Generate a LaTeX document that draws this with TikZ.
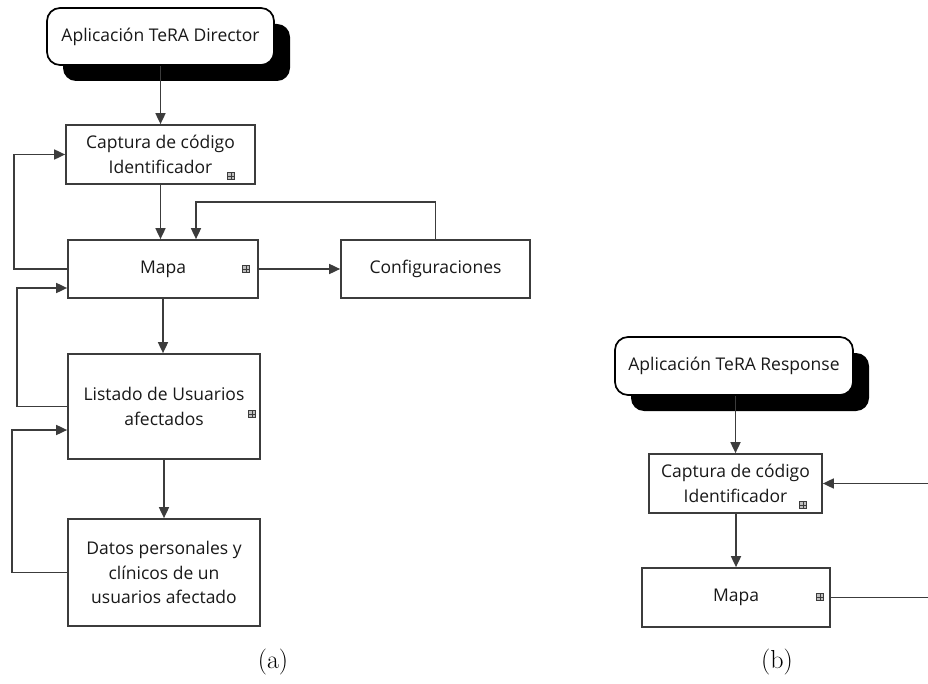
\documentclass[tikz,border=0pt]{standalone}
\usepackage{fontspec}
\newfontfamily\diagfont{Open Sans}
\usetikzlibrary{arrows.meta,shadows,calc}
\definecolor{dark_gray}{RGB}{60, 60, 60}

\tikzset{
  caja/.style={draw=dark_gray, line width=1.7pt, fill=white, align=center,
    inner sep=0pt, text=black!90, font=\diagfont\fontsize{17.5}{25.5}\selectfont},
  app/.style={caja, draw=black, rounded corners=13pt,
    drop shadow={shadow xshift=16pt, shadow yshift=-16pt, fill=black, opacity=1}},
  flecha/.style={draw=dark_gray, line width=1.7pt, ->},
  icono/.style={draw=dark_gray, line width=0.9pt, fill=gray!50}
}

\begin{document}
\begin{tikzpicture}[x=1pt, y=-1pt, >={Triangle[length=11pt,width=10pt]}]
\useasboundingbox (0,0) rectangle (928,684);

\node[app, minimum width=227, minimum height=57] (dir) at (160.5,36.5) {Aplicación TeRA Director};
\node[caja, minimum width=189, minimum height=59] (cap) at (160.5,154.5) {Captura de código\\Identificador};
\node[caja, minimum width=190, minimum height=58] (mapa) at (163,269) {Mapa};
\node[caja, minimum width=189, minimum height=58] (conf) at (435.5,269) {Configuraciones};
\node[caja, minimum width=192, minimum height=105] (list) at (164,406.5) {Listado de Usuarios\\afectados};
\node[caja, minimum width=192, minimum height=107, font=\diagfont\fontsize{17.5}{24.5}\selectfont] (datos) at (164,572.5) {Datos personales y\\clínicos de un\\usuarios afectado};

\node[app, minimum width=238, minimum height=58] (resp) at (734,366) {Aplicación TeRA Response};
\node[caja, minimum width=173, minimum height=59] (cap2) at (735.5,483.5) {Captura de código\\Identificador};
\node[caja, minimum width=188, minimum height=59] (mapa2) at (736,597.5) {Mapa};

\draw[flecha] (dir) -- (cap);
\draw[flecha] (cap.south) -- (cap.south |- mapa.north);
\draw[flecha] (mapa.west) -- ++(-53,0) |- (cap.west);
\draw[flecha] (mapa.east) -- (conf.west);
\draw[flecha] (conf.north) -- ++(0,-37) -| ($(mapa.north)+(33,0)$);
\draw[flecha] (mapa) -- (mapa |- list.north);
\draw[flecha] (list.west) -- ++(-50,0) |- ($(mapa.west)+(0,19)$);
\draw[flecha] (list) -- (datos);
\draw[flecha] (datos.west) -- ++(-55,0) |- ($(list.west)+(0,23.5)$);

\coordinate (borde1) at (928,483.5);
\coordinate (borde2) at (928,597.5);
\draw[flecha] (cap2.north |- resp.south) -- (cap2.north);
\draw[flecha] (cap2.south -| mapa2.north) -- (mapa2.north);
\draw[flecha] (borde1) -- (cap2.east);
\draw[flecha, -] (mapa2.east) -- (borde2);

\foreach \x/\y in {231/176, 246/269, 252/414, 803/505, 820/597}
  \draw[icono] (\x-3.5,\y-3.5) rectangle (\x+3.5,\y+3.5)
    (\x-3.5,\y) -- (\x+3.5,\y) (\x,\y-3.5) -- (\x,\y+3.5);

\node[font=\fontsize{26}{30}\selectfont] (la) at (273,662) {(a)};
\node[font=\fontsize{26}{30}\selectfont] (lb) at (777,662) {(b)};
\end{tikzpicture}
\end{document}
